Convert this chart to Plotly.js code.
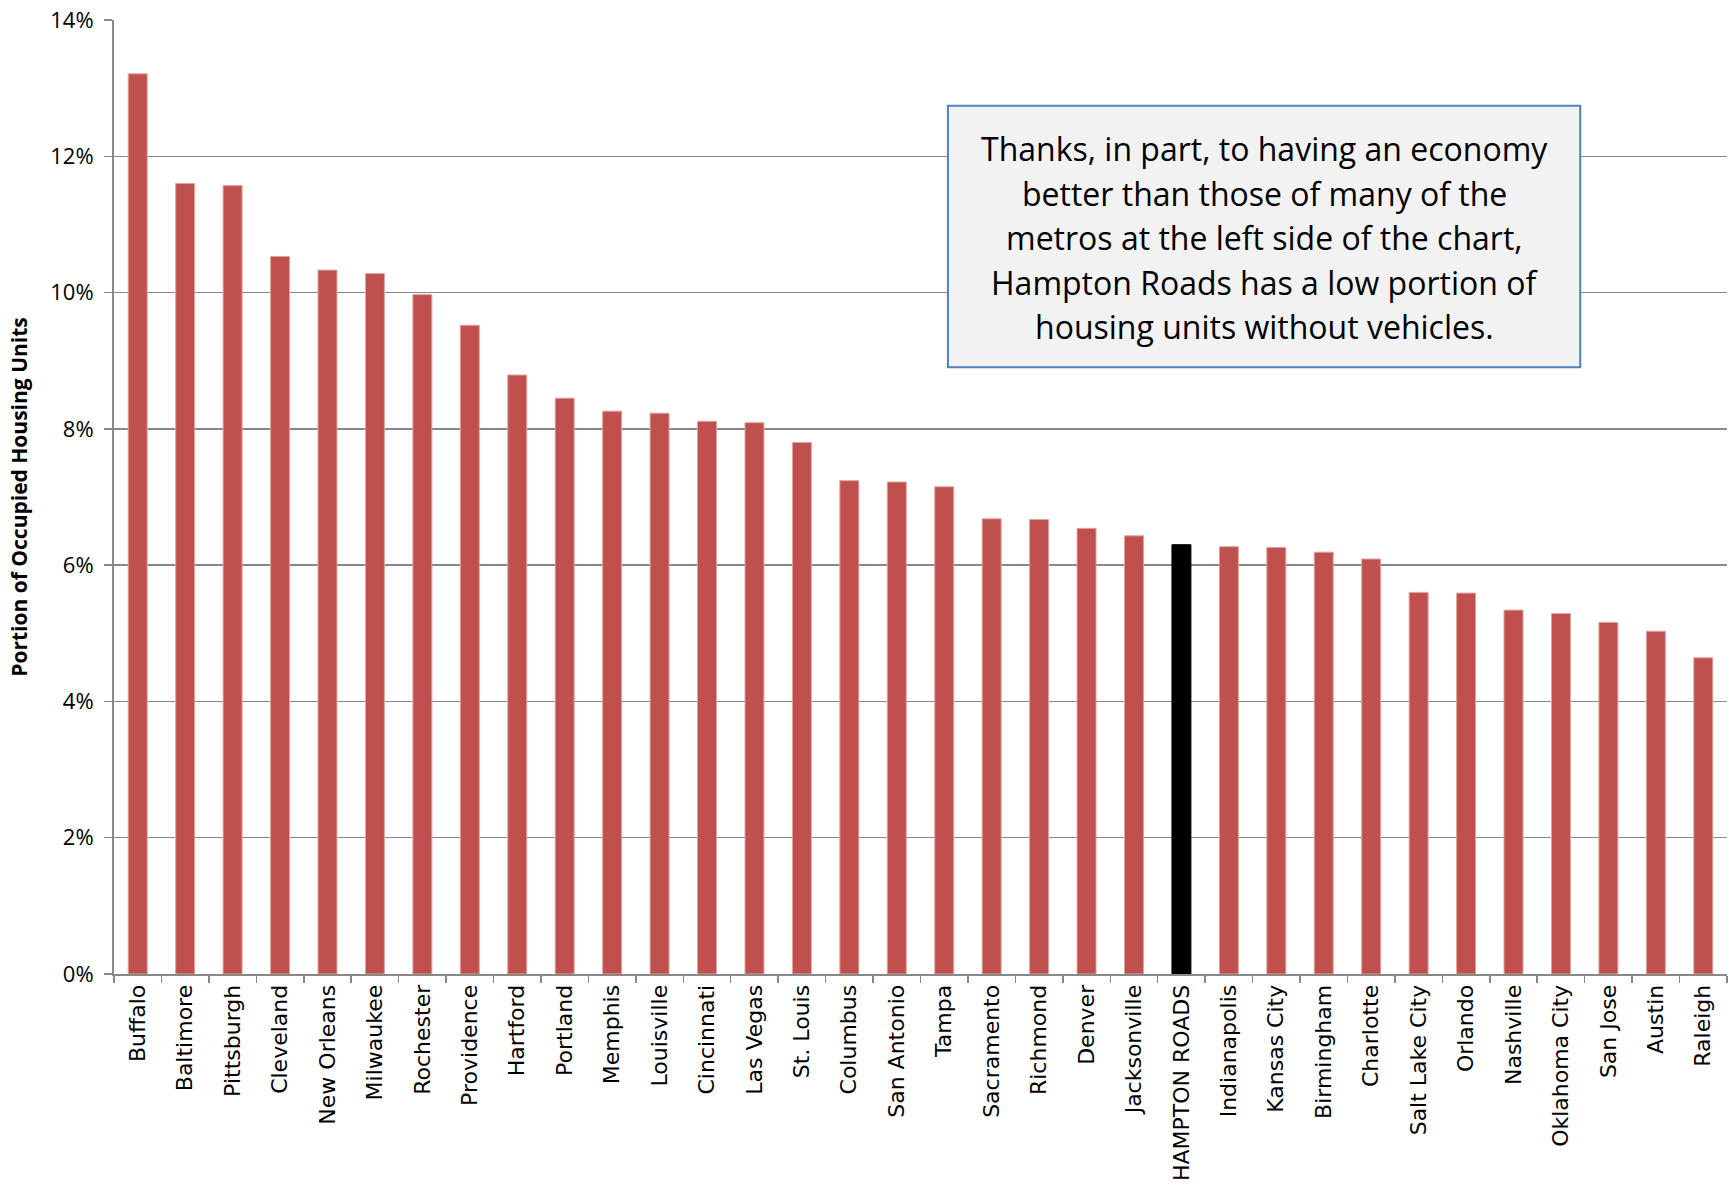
<!DOCTYPE html>
<html>
<head>
<meta charset="utf-8">
<script src="https://cdn.plot.ly/plotly-3.0.1.min.js"></script>
<style>html,body{margin:0;padding:0;background:#fff;}#chart{width:1730px;height:1191px;}</style>
</head>
<body>
<div id="chart"></div>
<script>
const metros = ["Buffalo","Baltimore","Pittsburgh","Cleveland","New Orleans","Milwaukee","Rochester","Providence","Hartford","Portland","Memphis","Louisville","Cincinnati","Las Vegas","St. Louis","Columbus","San Antonio","Tampa","Sacramento","Richmond","Denver","Jacksonville","HAMPTON ROADS","Indianapolis","Kansas City","Birmingham","Charlotte","Salt Lake City","Orlando","Nashville","Oklahoma City","San Jose","Austin","Raleigh"];
const shareNoVehicle = [13.21,11.60,11.57,10.53,10.33,10.28,9.97,9.52,8.79,8.45,8.26,8.23,8.11,8.09,7.80,7.24,7.22,7.15,6.68,6.67,6.54,6.43,6.30,6.27,6.26,6.19,6.09,5.60,5.59,5.34,5.29,5.16,5.03,4.64];
const highlight = "HAMPTON ROADS";
const yTicks = [0,2,4,6,8,10,12,14];
const yTitle = "Portion of Occupied Housing Units";
const noteLines = [
  "Thanks, in part, to having an economy",
  "better than those of many of the",
  "metros at the left side of the chart,",
  "Hampton Roads has a low portion of",
  "housing units without vehicles."
];

const colors = metros.map(m => m === highlight ? "#000000" : "#c0504d");
const lineColors = metros.map(m => m === highlight ? "#000000" : "#dfa3a1");

const trace = {
  type: "bar",
  x: metros,
  y: shareNoVehicle,
  marker: {color: colors, line: {color: lineColors, width: 1}},
  hoverinfo: "x+y"
};

// note box geometry (paper fractions)
const boxX0 = 0.517, boxX1 = 0.909, boxY0 = 0.636, boxY1 = 0.910;
const firstLineY = 0.865, lineStep = 0.0466;

const annotations = noteLines.map((t, i) => ({
  xref: "paper", yref: "paper",
  x: (boxX0 + boxX1) / 2, y: firstLineY - i * lineStep,
  xanchor: "center", yanchor: "middle",
  text: t, showarrow: false,
  font: {family: "Open Sans, sans-serif", size: 32, color: "#000"}
}));

const gridGray = "#888888";
const layout = {
  width: 1730, height: 1191,
  margin: {l: 114, r: 3, t: 20, b: 217},
  paper_bgcolor: "#ffffff", plot_bgcolor: "#ffffff",
  bargap: 0.6,
  showlegend: false,
  font: {family: "Open Sans, sans-serif", color: "#000"},
  xaxis: {
    type: "category",
    tickangle: -90,
    tickfont: {family: "DejaVu Sans, Verdana, sans-serif", size: 22, color: "#000"},
    showline: true, linecolor: gridGray, linewidth: 2,
    ticks: "outside", tickson: "boundaries", ticklen: 7, tickcolor: gridGray, tickwidth: 1.5,
    showgrid: false, automargin: false
  },
  yaxis: {
    range: [0, 14],
    tickvals: yTicks,
    ticktext: yTicks.map(v => v + "%"),
    tickfont: {family: "Open Sans, sans-serif", size: 22, color: "#000"},
    ticklabelstandoff: 6,
    showline: true, linecolor: gridGray, linewidth: 2,
    ticks: "outside", ticklen: 8, tickcolor: gridGray, tickwidth: 1.5,
    showgrid: true, gridcolor: gridGray, gridwidth: 1.5,
    zeroline: false, automargin: false,
    title: {text: yTitle, font: {family: "Open Sans, sans-serif", size: 21, color: "#000", weight: "bold"}, standoff: 17}
  },
  shapes: [{
    type: "rect", xref: "paper", yref: "paper",
    x0: boxX0, x1: boxX1, y0: boxY0, y1: boxY1,
    fillcolor: "#f2f2f2", line: {color: "#4f81bd", width: 2}, layer: "above"
  }],
  annotations: annotations
};

Plotly.newPlot("chart", [trace], layout, {displayModeBar: false, staticPlot: true});
</script>
</body>
</html>
